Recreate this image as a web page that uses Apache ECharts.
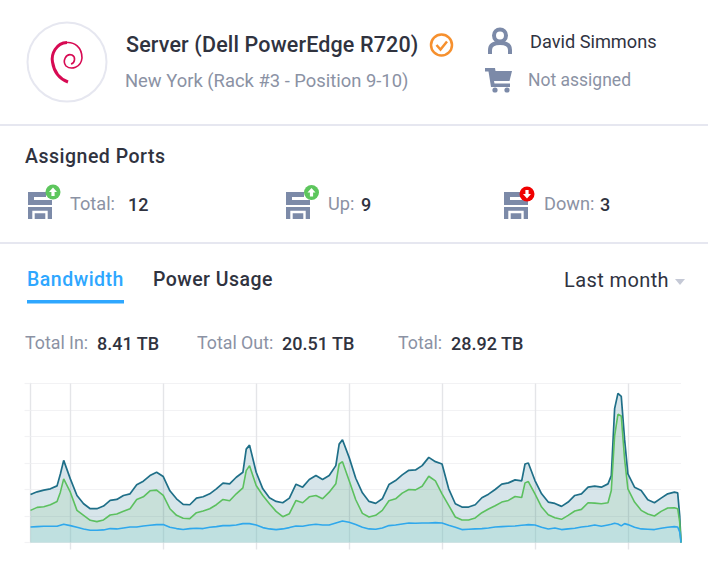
<!DOCTYPE html>
<html>
<head>
<meta charset="utf-8" />
<title>Server Bandwidth</title>
<script src="https://cdn.jsdelivr.net/npm/echarts@6/dist/echarts.min.js"></script>
<style>
  html, body { margin: 0; height: 100%; background: #fff; font-family: Roboto, sans-serif; color: #30333f; overflow: hidden; }
  .t { position: absolute; white-space: nowrap; line-height: 24px; height: 24px; }
  .m { font-weight: 500; }
  .g { color: #8b92a4; }
  .rule { position: absolute; left: 0; width: 708px; height: 2px; background: #e6e7f0; }
  svg.art { position: absolute; left: 0; top: 0; }
  #chart { position: absolute; left: 0; top: 370px; width: 708px; height: 198px; }
</style>
</head>
<body>
<svg class="art" width="708" height="370">
  <circle cx="67" cy="62" r="39.5" fill="#fff" stroke="#e6e7f0" stroke-width="2"/>
  <path d="M67 42.5 C56 43 51 54 52.5 62 C54 72 60 79 68 82" fill="none" stroke="#d70a53" stroke-width="3"/>
  <path d="M67 42.5 C74 42 82 47 82 58 C81 68 71 70 66 66 C62 61 66 53 72 55 C76 57 75 63 71 64" fill="none" stroke="#d70a53" stroke-width="1.6"/>
  <circle cx="441.5" cy="45" r="10.5" fill="none" stroke="#f6902e" stroke-width="2.5"/>
  <path d="M436.5 45 L440.5 49.5 L447 41.5" fill="none" stroke="#f6902e" stroke-width="2.5"/>
  <!-- user -->
  <circle cx="500" cy="35.5" r="6" fill="none" stroke="#7c8aa8" stroke-width="4"/>
  <path d="M490 54 V50 C490 45 494 43 500 43 C506 43 510 45 510 50 V54" fill="none" stroke="#7c8aa8" stroke-width="4"/>
  <!-- cart -->
  <path d="M485 68 H495 L495.5 71 H512 L509.5 81 H494 L494.5 83.5 H510 V87 H491 L488.5 71.5 H485 Z" fill="#7c8aa8"/>
  <circle cx="495" cy="90" r="2.6" fill="#7c8aa8"/>
  <circle cx="507" cy="90" r="2.6" fill="#7c8aa8"/>
  <g id="ports"></g>
  <rect x="27" y="300" width="97" height="3.5" fill="#2ea7ff"/>
  <path d="M675 279 H685 L680 285 Z" fill="#c5c9d6"/>
</svg>

<span class="t m" style="left:126px;top:33px;font-size:21.5px;letter-spacing:.15px">Server (Dell PowerEdge R720)</span>
<span class="t g" style="left:125px;top:69px;font-size:18.4px">New York (Rack #3 - Position 9-10)</span>
<span class="t" style="left:530px;top:30px;font-size:18.2px">David Simmons</span>
<span class="t g" style="left:528px;top:68px;font-size:17.5px">Not assigned</span>
<div class="rule" style="top:124px"></div>
<span class="t m" style="left:25px;top:145px;font-size:19.5px;letter-spacing:.5px">Assigned Ports</span>
<span class="t g" style="left:70px;top:192px;font-size:18.2px">Total:</span>
<span class="t m" style="left:128px;top:193px;font-size:18px">12</span>
<span class="t g" style="left:328px;top:192px;font-size:18.2px">Up:</span>
<span class="t m" style="left:361px;top:193px;font-size:18px">9</span>
<span class="t g" style="left:544px;top:192px;font-size:18.2px">Down:</span>
<span class="t m" style="left:600px;top:193px;font-size:18px">3</span>
<div class="rule" style="top:242px"></div>
<span class="t m" style="left:27px;top:268px;font-size:19.5px;letter-spacing:.5px;color:#2ea7ff">Bandwidth</span>
<span class="t m" style="left:153px;top:268px;font-size:19.5px;letter-spacing:.45px">Power Usage</span>
<span class="t" style="left:564px;top:268px;font-size:20px;letter-spacing:.4px">Last month</span>
<span class="t g" style="left:25px;top:331px;font-size:17.8px">Total In:</span>
<span class="t m" style="left:97px;top:332px;font-size:18px">8.41 TB</span>
<span class="t g" style="left:197px;top:331px;font-size:17.8px">Total Out:</span>
<span class="t m" style="left:282px;top:332px;font-size:18px">20.51 TB</span>
<span class="t g" style="left:398px;top:331px;font-size:17.8px">Total:</span>
<span class="t m" style="left:451px;top:332px;font-size:18px">28.92 TB</span>

<div id="chart"></div>

<script type="text/javascript">
var days = [0,.5,1,1.5,2,2.25,2.5,3,3.5,4,4.5,5,5.5,6,6.5,7,7.5,8,8.5,9,9.5,10,10.5,11,11.5,12,12.5,13,13.5,14,14.5,15,15.5,
  16,16.25,16.5,17,17.5,18,18.5,19,19.5,20,20.5,21,21.5,22,22.5,23,23.25,23.5,24,24.5,25,25.5,26,26.5,27,27.5,28,28.5,29,29.5,30,30.5,31,31.5,32,32.5,33,
  33.5,34,34.5,35,35.5,36,36.5,37,37.25,37.5,38,38.5,39,39.5,40,40.5,41,41.5,42,42.5,43,43.5,43.75,44,44.25,44.5,44.75,45,45.5,46,46.5,47,47.5,48,48.5,48.75,48.9,49];
var totalTraffic = [145,153,158,162,171,207,248,192,142,117,102,102,110,127,130,142,147,174,185,202,212,199,156,132,115,114,134,138,147,162,179,177,197,
  212,282,294,212,162,135,124,120,134,176,167,190,202,190,202,232,297,310,257,194,150,124,118,132,175,187,204,218,219,232,257,244,237,162,117,107,107,
  114,135,146,160,176,180,189,186,237,240,187,147,122,118,109,122,142,147,167,170,167,177,202,404,450,441,312,207,167,157,129,120,134,147,152,150,82,0];
var outTraffic = [97,106,108,114,124,152,192,152,97,82,67,63,68,83,86,94,102,130,138,156,158,142,102,82,73,72,90,95,102,114,130,126,147,
  165,217,232,172,142,117,94,78,87,127,120,138,142,132,152,177,237,244,187,129,88,77,82,97,126,132,149,160,159,170,200,186,147,112,77,68,68,
  74,90,101,111,122,127,139,136,180,184,147,107,84,75,70,82,95,100,120,119,117,120,157,322,387,382,252,162,122,97,86,80,94,104,105,102,62,0];
var inTraffic = [47,48,49,49,49,52,55,51,46,41,37,37,38,42,41,44,47,47,50,52,54,54,46,42,39,42,43,42,46,48,51,51,53,
  57,57,57,53,45,41,39,41,45,50,49,53,55,53,53,59,62,65,61,54,46,41,40,44,51,53,56,59,58,59,59,60,59,52,46,39,40,
  41,42,44,47,48,49,50,52,53,54,53,46,41,44,39,41,43,47,49,53,49,53,55,58,56,50,57,54,46,41,40,39,43,46,48,47,32,0];
var weekTicks = [3,10,17,24,31,38,45];
var portBadges = [[53,192,'#5dc65d',true],[311.5,192.5,'#5dc65d',true],[527,194,'#f00000',false]];
var portLefts = [28,286,504];

// small port icons, same shape three times
var ports = '';
portLefts.forEach(function (x, i) {
  var b = portBadges[i];
  ports += '<path transform="translate(' + x + ',192)" fill="#7c8aa8" d="M0 0H18V5H6V8H24V13H0Z M0 15H24V27H0Z"/>' +
    '<path transform="translate(' + x + ',192)" fill="none" stroke="#fff" stroke-width="2.4" d="M5.5 27V20H18.5V27"/>' +
    '<circle cx="' + b[0] + '" cy="' + b[1] + '" r="7.5" fill="' + b[2] + '"/>' +
    '<path transform="translate(' + b[0] + ',' + b[1] + ')' + (b[3] ? '' : ' rotate(180)') + '" fill="#fff" d="M0 -4.5L4 0H1.6V4H-1.6V0H-4Z"/>';
});
document.getElementById('ports').innerHTML = ports;

function pairs(values) {
  return values.map(function (v, i) { return [days[i], v]; });
}

function areaSeries(name, values, lineColor, fill, width) {
  return {
    name: name,
    type: 'line',
    data: pairs(values),
    showSymbol: false,
    silent: true,
    lineStyle: { color: lineColor, width: width },
    areaStyle: { color: fill, opacity: 1 }
  };
}

var chart = echarts.init(document.getElementById('chart'));
chart.setOption({
  animation: false,
  grid: { left: 30.5, right: 27, top: 13.5, bottom: 25.5 },
  xAxis: {
    type: 'value',
    min: 0,
    max: 49,
    axisLine: { show: false },
    axisLabel: { show: false },
    axisTick: { length: 7, lineStyle: { color: '#e4e5e8', width: 1.4 }, customValues: weekTicks },
    splitLine: { show: true, lineStyle: { color: '#e4e5e8', width: 1.4 } }
  },
  yAxis: {
    type: 'value',
    min: 0,
    max: 480,
    interval: 80,
    axisLine: { show: true, lineStyle: { color: '#e4e5e8', width: 1.4 } },
    axisTick: { show: true, length: 6, lineStyle: { color: '#f2f2f4', width: 1.2 } },
    axisLabel: { show: false },
    splitLine: { lineStyle: { color: '#f2f2f4', width: 1.2 } }
  },
  series: [
    areaSeries('Total', totalTraffic, '#1f6f88', 'rgba(31,111,136,0.18)', 1.7),
    areaSeries('Out', outTraffic, '#5cc05f', 'rgba(92,192,95,0.12)', 1.6),
    areaSeries('In', inTraffic, '#2fa8ec', 'rgba(170,225,240,0.3)', 1.6)
  ]
});
window.addEventListener('resize', function () { chart.resize(); });
</script>
</body>
</html>
